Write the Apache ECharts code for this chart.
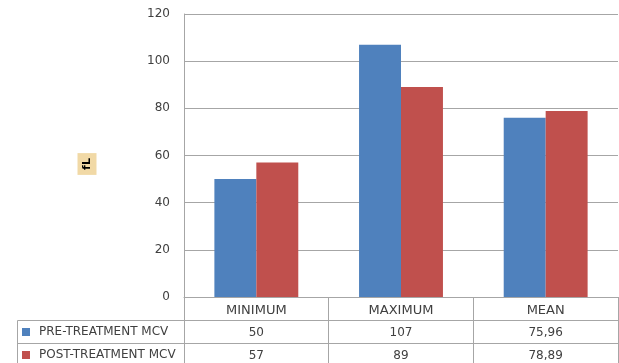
<!DOCTYPE html>
<html>
<head>
<meta charset="utf-8">
<script src="https://cdn.jsdelivr.net/npm/echarts@6/dist/echarts.min.js"></script>
<style>
  html, body { margin: 0; padding: 0; background: #ffffff; }
  #chart { width: 619px; height: 363px; }
</style>
</head>
<body>
<div id="chart"></div>
<script>
// MCV values (fL) before and after treatment
const categories = ['MINIMUM', 'MAXIMUM', 'MEAN'];
const preValues = [50, 107, 75.96];
const postValues = [57, 89, 78.89];
const seriesNames = ['PRE-TREATMENT MCV', 'POST-TREATMENT MCV'];

const FONT = 'DejaVu Sans';
const TEXT = '#404040';
const LINE = '#a6a6a6';
const BLUE = '#4f81bd';
const RED = '#c0504d';

const GRID_LEFT = 184, GRID_TOP = 14, GRID_W = 434, GRID_H = 283;
const ROW_H = 23;
const gridBottomY = GRID_TOP + GRID_H;

const fmt = v => String(v).replace('.', ',');

// one category axis per table row; boundary ticks form the cell dividers
function tableAxis(offset, labelFn, fontSize) {
  return {
    type: 'category',
    data: categories,
    position: 'bottom',
    offset: offset,
    axisLine: { show: true, lineStyle: { color: LINE, width: 1 } },
    axisTick: { show: true, length: ROW_H, lineStyle: { color: LINE, width: 1 } },
    axisLabel: {
      show: true,
      margin: 7,
      fontFamily: FONT,
      fontSize: fontSize,
      color: TEXT,
      formatter: labelFn
    },
    splitLine: { show: false }
  };
}

// single-entry legend sitting in its own table row
function rowLegend(name, rowIndex) {
  return {
    orient: 'vertical',
    left: 22,
    top: gridBottomY + ROW_H * rowIndex + 6,
    padding: 0,
    itemWidth: 8,
    itemHeight: 8,
    icon: 'rect',
    data: [name],
    textStyle: { fontFamily: FONT, fontSize: 12, color: TEXT, padding: [0, 0, 0, 4] },
    selectedMode: false
  };
}

const chart = echarts.init(document.getElementById('chart'), null, { renderer: 'canvas' });

chart.setOption({
  animation: false,
  backgroundColor: '#ffffff',
  grid: { left: GRID_LEFT, top: GRID_TOP, width: GRID_W, height: GRID_H, containLabel: false },
  legend: [rowLegend(seriesNames[0], 1), rowLegend(seriesNames[1], 2)],
  xAxis: [
    tableAxis(0, v => v, 13),
    tableAxis(ROW_H, (v, i) => fmt(preValues[i]), 12),
    tableAxis(ROW_H * 2, (v, i) => fmt(postValues[i]), 12)
  ],
  yAxis: {
    type: 'value',
    min: 0,
    max: 120,
    interval: 20,
    axisLine: { show: true, lineStyle: { color: LINE, width: 1 } },
    axisTick: { show: false },
    axisLabel: { margin: 14, fontFamily: FONT, fontSize: 12, color: TEXT },
    splitLine: { show: true, lineStyle: { color: LINE, width: 1 } }
  },
  series: [
    {
      name: seriesNames[0],
      type: 'bar',
      data: preValues,
      itemStyle: { color: BLUE },
      barGap: '0%',
      barCategoryGap: '42%'
    },
    {
      name: seriesNames[1],
      type: 'bar',
      data: postValues,
      itemStyle: { color: RED },
      barGap: '0%',
      barCategoryGap: '42%'
    }
  ],
  graphic: [
    // unit title of the value axis
    {
      type: 'text',
      silent: true,
      x: 87,
      y: 164,
      rotation: Math.PI / 2,
      style: {
        text: 'fL',
        fontFamily: FONT,
        fontSize: 11,
        fontWeight: 'bold',
        fill: '#000000',
        align: 'center',
        verticalAlign: 'middle',
        backgroundColor: '#f1d9a6',
        padding: [4, 5, 4, 5]
      }
    },
    // borders of the legend column on the left of the data table
    {
      type: 'polyline',
      silent: true,
      shape: { points: [[GRID_LEFT, gridBottomY + ROW_H + 0.5], [17.5, gridBottomY + ROW_H + 0.5], [17.5, 380]] },
      style: { stroke: LINE, lineWidth: 1, fill: null }
    },
    {
      type: 'line',
      silent: true,
      shape: { x1: 17.5, y1: gridBottomY + ROW_H * 2 + 0.5, x2: GRID_LEFT, y2: gridBottomY + ROW_H * 2 + 0.5 },
      style: { stroke: LINE, lineWidth: 1 }
    }
  ]
});
</script>
</body>
</html>
